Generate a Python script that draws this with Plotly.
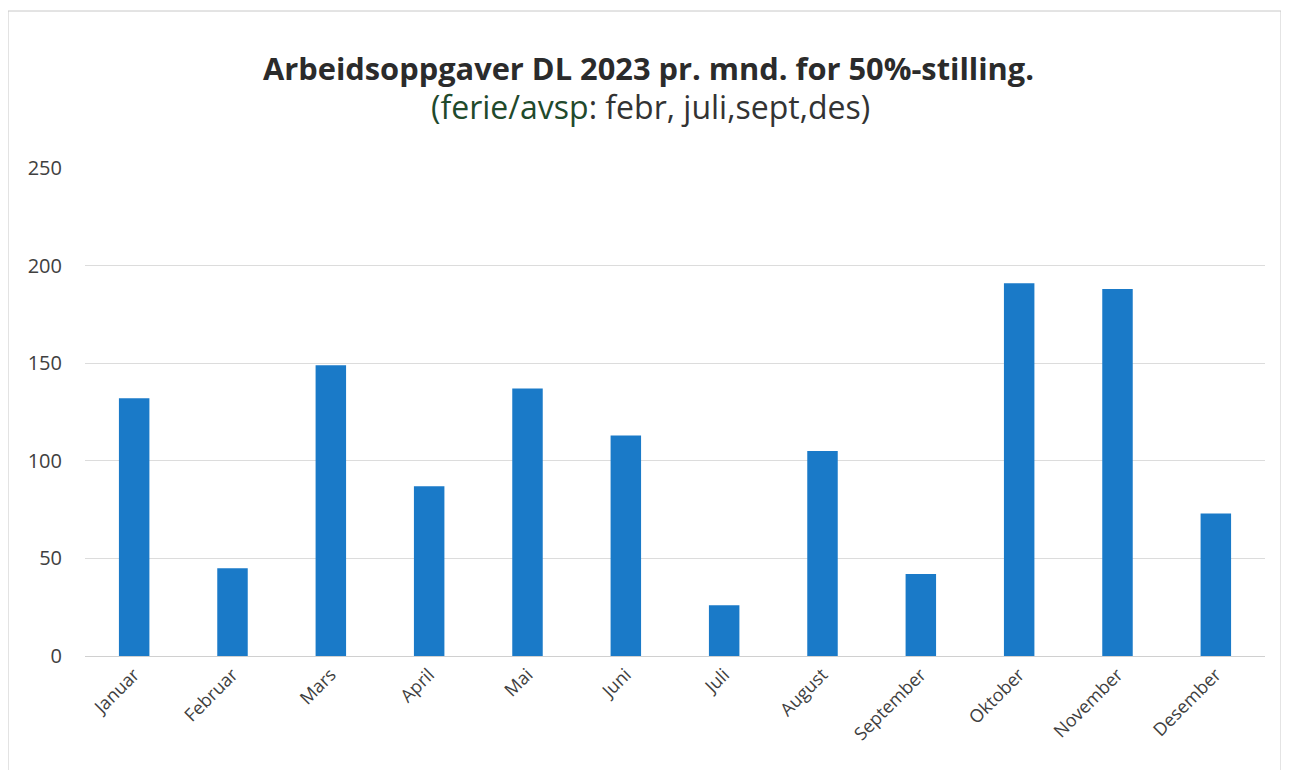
import plotly.graph_objects as go

months = ["Januar", "Februar", "Mars", "April", "Mai", "Juni", "Juli",
          "August", "September", "Oktober", "November", "Desember"]
values = [132, 45, 149, 87, 137, 113, 26, 105, 42, 191, 188, 73]
y_ticks = [0, 50, 100, 150, 200, 250]

fig = go.Figure()
fig.add_trace(go.Bar(x=months, y=values, marker=dict(color="#1a7ac8", line=dict(width=0))))

OFF = 8  # page body margin
W, H = 1273, 762
L, R, T, B = 77, 16, 160, 114
pw, ph = W - L - R, H - T - B
x0p = OFF + L          # page x of plot left
y0p = OFF + H - B      # page y of plot bottom


def px(x):
    return (x - x0p) / pw


def py(y):
    return (y0p - y) / ph


fig.update_layout(
    width=W, height=H,
    margin=dict(l=L, r=R, t=T, b=B),
    paper_bgcolor="white", plot_bgcolor="white",
    bargap=0.69,
    showlegend=False,
    font=dict(family="Open Sans, Liberation Sans, sans-serif", color="#404040"),
    xaxis=dict(
        tickangle=-45, tickfont=dict(size=18, color="#404040"),
        showgrid=False, showline=True, linecolor="#d0d0d0", linewidth=1,
        ticks="",
    ),
    yaxis=dict(
        range=[0, 250], tickvals=y_ticks, ticktext=[str(v) for v in y_ticks],
        tickfont=dict(size=20, color="#404040"),
        showgrid=True, gridcolor="#dcdcdc", gridwidth=1,
        zeroline=False, showline=False, ticks="", ticklabelstandoff=22,
    ),
    annotations=[
        dict(text="<b>Arbeidsoppgaver DL 2023 pr. mnd. for 50%-stilling.</b>",
             xref="paper", yref="paper", x=px(648), y=py(68),
             xanchor="center", yanchor="middle", showarrow=False,
             font=dict(size=30.8, color="#2b2b2b")),
        dict(text="<span style='color:#1f4a2c'>(ferie/avsp</span>"
                  "<span style='color:#333333'>: febr, juli,sept,des)</span>",
             xref="paper", yref="paper", x=px(650), y=py(106),
             xanchor="center", yanchor="middle", showarrow=False,
             font=dict(size=32, color="#333333")),
    ],
    shapes=[dict(
        type="rect", xref="paper", yref="paper",
        x0=px(8), x1=px(1281),
        y0=py(774), y1=py(11),
        line=dict(color="#c8c8c8", width=1), fillcolor="rgba(0,0,0,0)", layer="below",
    )],
)

fig.write_html("out.html")
